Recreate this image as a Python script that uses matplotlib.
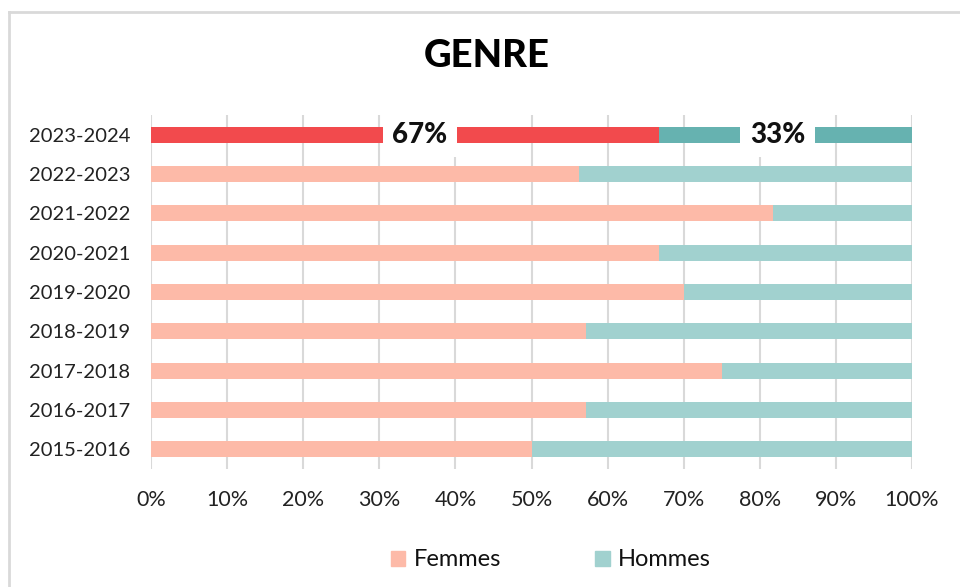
import matplotlib
matplotlib.use("Agg")
import matplotlib.pyplot as plt
from matplotlib.patches import Patch

years = ["2015-2016", "2016-2017", "2017-2018", "2018-2019", "2019-2020",
         "2020-2021", "2021-2022", "2022-2023", "2023-2024"]
femmes = [50.0, 57.1, 75.0, 57.1, 70.0, 66.7, 81.8, 56.3, 66.7]
hommes = [50.0, 42.9, 25.0, 42.9, 30.0, 33.3, 18.2, 43.7, 33.3]
xticks = [0, 10, 20, 30, 40, 50, 60, 70, 80, 90, 100]
title = "GENRE"
legend_labels = ["Femmes", "Hommes"]

c_f, c_h = "#FDBAA8", "#A1D1CF"
c_f_hi, c_h_hi = "#F24A4D", "#66B2B0"

plt.rcParams['font.family'] = ['Lato', 'DejaVu Sans']

fig = plt.figure(figsize=(9.6, 5.87), dpi=100)
# outer frame (left and top only visible)
fig.add_artist(plt.Line2D([9/960, 9/960], [0, 1 - 12/587], color="#D9D9D9", lw=2, transform=fig.transFigure))
fig.add_artist(plt.Line2D([9/960, 1], [1 - 12/587, 1 - 12/587], color="#D9D9D9", lw=2, transform=fig.transFigure))

ax = fig.add_axes([151/960, 1 - 469/587, 761/960, 354/587])
n = len(years)
ypos = list(range(n))
fcols = [c_f] * (n - 1) + [c_f_hi]
hcols = [c_h] * (n - 1) + [c_h_hi]
ax.barh(ypos, femmes, height=0.4, color=fcols, label=legend_labels[0], zorder=2)
ax.barh(ypos, hommes, left=femmes, height=0.4, color=hcols, label=legend_labels[1], zorder=2)

# labels on last bar
i = n - 1
for xc, val in [(femmes[i] / 2 + 2, femmes[i]), (femmes[i] + hommes[i] / 2 - 1, hommes[i])]:
    ax.text(xc, i, f"{val:.0f}%", ha="center", va="center", fontsize=20, fontweight="black",
            color="#111111", zorder=4,
            bbox=dict(boxstyle="square,pad=0.35", fc="white", ec="none"))

ax.set_xlim(0, 100)
ax.set_ylim(-0.5, n - 0.5)
ax.set_xticks(xticks)
ax.set_xticklabels([f"{t}%" for t in xticks])
ax.set_yticks(ypos)
ax.set_yticklabels(years)
ax.tick_params(axis="both", length=0, colors="#222222")
ax.tick_params(axis="x", pad=15, labelsize=15.5)
ax.tick_params(axis="y", pad=15, labelsize=14.5)
for s in ax.spines.values():
    s.set_visible(False)
ax.grid(axis="x", color="#D9D9D9", lw=1.5, zorder=0)
ax.set_axisbelow(True)

fig.text(487/960, 1 - 56/587, title, ha="center", va="center", fontsize=27.5, fontweight="black", color="black")

handles = [Patch(color=c_f, label=legend_labels[0]), Patch(color=c_h, label=legend_labels[1])]
leg = fig.legend(handles=handles, loc="center", bbox_to_anchor=(551/960, 1 - 560/587), ncol=2, frameon=False,
                 fontsize=17, handlelength=0.6, handleheight=0.6, columnspacing=4.0, handletextpad=0.35,
                 labelcolor="#111111")

fig.savefig("out.png", dpi=100)
